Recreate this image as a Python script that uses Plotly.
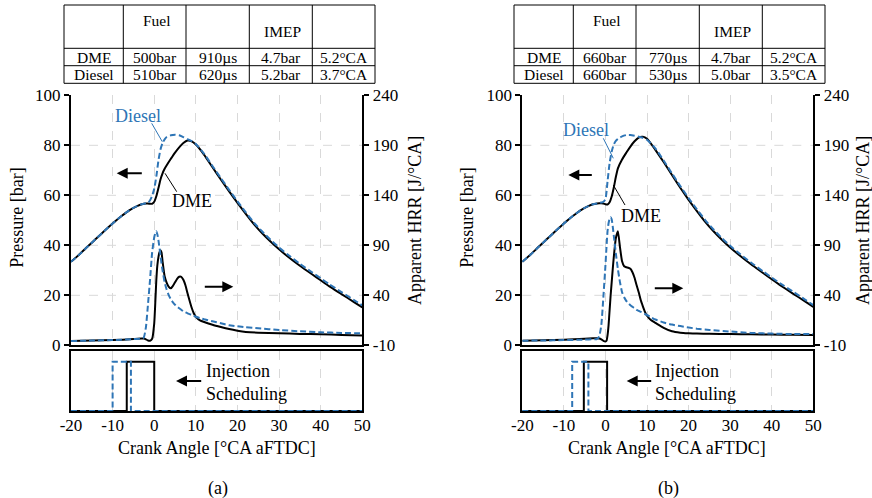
import plotly.graph_objects as go

# ---------------- data ----------------
# crank angle grids [°CA aFTDC]
ca_p = [-20, -18, -16, -14, -12, -10, -8, -6, -4, -3, -2, -1.5, -1, -0.5, 0, 0.5, 1, 1.5, 2, 2.5, 3,
        4, 5, 6, 7, 8, 9, 10, 12, 14, 16, 18, 20, 22, 24, 26, 28, 30, 32, 35, 38, 40, 42, 45, 48, 50]
ca_h = [-20, -15, -10, -5, -3, -2.5, -2, -1.5, -1, -0.5, 0, 0.25, 0.5, 0.75, 1, 1.25, 1.5, 1.75, 2,
        2.5, 3, 3.5, 4, 4.5, 5, 5.5, 6, 6.5, 7, 7.5, 8, 8.5, 9, 9.5, 10, 11, 12, 14, 16, 18, 20, 22,
        25, 30, 35, 40, 45, 50]

# (a) cylinder pressure [bar]
p_dme_a = [33.4, 36.3, 39.5, 42.6, 45.7, 48.7, 51.5, 54.0, 55.8, 56.4, 56.7, 56.7, 56.6, 56.6, 57.4,
           59.6, 62.8, 66.3, 68.8, 70.6, 72.0, 74.6, 77.1, 79.2, 80.9, 81.9, 81.6, 80.3, 76.2, 71.2,
           66.3, 61.6, 57.0, 52.6, 48.4, 44.7, 41.4, 38.4, 35.6, 31.8, 28.3, 26.0, 23.7, 20.5, 17.3, 15.2]
p_die_a = [33.4, 36.3, 39.5, 42.6, 45.7, 48.7, 51.5, 54.0, 55.8, 56.4, 56.8, 57.0, 58.0, 59.8, 62.6,
           67.5, 73.8, 78.3, 80.9, 82.4, 83.3, 84.0, 84.2, 84.0, 83.3, 82.5, 81.7, 80.5, 76.6, 71.7,
           66.9, 62.2, 57.6, 53.2, 49.0, 45.4, 42.1, 39.1, 36.4, 32.6, 29.1, 26.8, 24.5, 21.3, 18.1, 16.0]
# (a) apparent heat release rate [J/°CA]
h_dme_a = [-5.7, -5.3, -4.8, -3.8, -3.2, -3.2, -4.0, -5.2, -5.5, -3.5, 12, 32, 55, 70, 78, 83, 85,
           83, 74, 59, 52.5, 48.5, 47, 49.5, 53, 56.5, 58.5, 58.5, 55.5, 50, 42, 34.5, 27.5, 22,
           18.5, 15, 13.3, 10.6, 8.3, 6.2, 4.6, 3.4, 2.6, 2.0, 1.4, 1.0, 0.4, -0.3]
h_die_a = [-5.7, -5.3, -4.8, -3.8, -3.2, -2.0, 8, 31, 56, 83, 98, 102, 104, 101, 95.5, 88, 80, 72,
           65, 53, 45.5, 40, 36, 33, 30.5, 28.5, 27, 25.5, 24, 23, 22, 21.2, 20.5, 19.5, 18.5, 17.2,
           16, 14, 12, 10, 9, 8, 7, 5.3, 4, 3, 2.4, 2.0]

# (b) cylinder pressure [bar]
p_dme_b = [33.4, 36.3, 39.5, 42.6, 45.7, 48.7, 51.5, 54.0, 55.8, 56.4, 56.7, 56.8, 56.8, 56.7, 56.4,
           56.3, 57.2, 59.5, 63.0, 67.3, 70.8, 74.3, 77.0, 79.5, 81.6, 83.1, 83.4, 82.6, 78.2, 73.3,
           68.1, 63.0, 58.2, 53.7, 49.4, 45.6, 42.2, 39.1, 36.3, 32.4, 28.8, 26.4, 24.1, 20.8, 17.6, 15.4]
p_die_b = [33.4, 36.3, 39.5, 42.6, 45.7, 48.7, 51.5, 54.0, 55.8, 56.4, 56.7, 56.9, 57.1, 57.4, 58.5,
           65.5, 72.8, 77.5, 80.3, 81.8, 82.6, 83.6, 84.1, 84.1, 83.8, 83.4, 83.0, 82.2, 78.8, 73.9,
           68.8, 63.7, 58.9, 54.4, 50.1, 46.3, 42.9, 39.8, 37.0, 33.1, 29.5, 27.1, 24.8, 21.6, 18.3, 16.1]
# (b) apparent heat release rate [J/°CA]
h_dme_b = [-5.4, -5.0, -4.5, -3.5, -3.0, -3.0, -3.0, -3.2, -4.0, -5.5, -6.2, -5.5, 0, 10, 25, 40, 53,
           66, 78, 97, 104, 88, 74, 69, 68, 67.5, 66.5, 63, 57.5, 50, 43, 35, 29, 23.5, 19.5, 15,
           12.5, 7.5, 4.0, 2.6, 2.0, 1.7, 1.5, 1.2, 1.0, 0.8, 0.5, 0.3]
h_die_b = [-5.4, -5.2, -4.8, -4.3, -4.0, -4.0, -3.5, -1.0, 10, 38, 70, 88, 104, 112, 116.5, 118, 116,
           109, 100, 82, 66, 53, 43, 38, 34.5, 32, 30, 28.5, 27, 25.5, 24.5, 23.5, 22.5, 21.3, 20.3,
           18, 15.8, 12.8, 10.7, 9.2, 7.8, 6.6, 5.3, 3.8, 2.4, 1.7, 1.3, 1.2]

# injection timing [°CA aFTDC]: (start, end)
inj_dme_a = (-6.6, 0.0)
inj_die_a = (-10.0, -5.6)
inj_dme_b = (-5.2, 0.4)
inj_die_b = (-8.0, -4.1)

# operating-condition tables
table_head = ["", "Fuel", "", "IMEP", ""]
table_a = [["DME", "500bar", "910µs", "4.7bar", "5.2°CA"],
           ["Diesel", "510bar", "620µs", "5.2bar", "3.7°CA"]]
table_b = [["DME", "660bar", "770µs", "4.7bar", "5.2°CA"],
           ["Diesel", "660bar", "530µs", "5.0bar", "3.5°CA"]]

x_ticks = [-20, -10, 0, 10, 20, 30, 40, 50]
x_ticktext = ["-20", "-10", "0", "10", "20", "30", "40", "50"]
p_ticks = [0, 20, 40, 60, 80, 100]
h_ticks = [-10, 40, 90, 140, 190, 240]
h_ticktext = ["-10", "40", "90", "140", "190", "240"]

# ---------------- styling ----------------
W, H = 872, 498
FONT = "Liberation Serif, Tinos, Times New Roman, DejaVu Serif, serif"
BLUE = "#2e75b6"
GRID = "#d9d9d9"
LABEL_SIZE = 18
TABLE_SIZE = 15.5


def px(x):
    return x / W


def py(y):
    return 1 - y / H


def pulse(start_end):
    s, e = start_end
    return [-20, s, s, e, e, 50], [0, 0, 1, 1, 0, 0]


fig = go.Figure()

panels = [
    dict(xm="x", ym="y", yh="y2", xi="x2", yi="y3", p=(p_dme_a, p_die_a), h=(h_dme_a, h_die_a),
         inj=(inj_dme_a, inj_die_a)),
    dict(xm="x3", ym="y4", yh="y5", xi="x4", yi="y6", p=(p_dme_b, p_die_b), h=(h_dme_b, h_die_b),
         inj=(inj_dme_b, inj_die_b)),
]

for pn in panels:
    for vals, col, dash in ((pn["p"][0], "black", "solid"), (pn["p"][1], BLUE, "6px,3px")):
        fig.add_trace(go.Scatter(x=ca_p, y=vals, xaxis=pn["xm"], yaxis=pn["ym"], mode="lines",
                                 line=dict(color=col, width=2, dash=dash, shape="spline", smoothing=0.6),
                                 showlegend=False, hoverinfo="skip"))
    for vals, col, dash in ((pn["h"][0], "black", "solid"), (pn["h"][1], BLUE, "6px,3px")):
        fig.add_trace(go.Scatter(x=ca_h, y=vals, xaxis=pn["xm"], yaxis=pn["yh"], mode="lines",
                                 line=dict(color=col, width=2, dash=dash, shape="spline", smoothing=0.5),
                                 showlegend=False, hoverinfo="skip"))
    for se, col, dash in ((pn["inj"][0], "black", "solid"), (pn["inj"][1], BLUE, "6px,3px")):
        xs, ys = pulse(se)
        fig.add_trace(go.Scatter(x=xs, y=ys, xaxis=pn["xi"], yaxis=pn["yi"], mode="lines",
                                 line=dict(color=col, width=2, dash=dash),
                                 showlegend=False, hoverinfo="skip"))

tickfont = dict(family=FONT, size=17, color="black")
axis_line = dict(showline=True, linecolor="black", linewidth=2, zeroline=False, automargin=False)
x_common = dict(range=[-20, 50], tickvals=x_ticks, ticktext=x_ticktext, showgrid=True, gridcolor=GRID,
                griddash="dash", gridwidth=1, ticks="", tickfont=tickfont, **axis_line)

layout_axes = {}
for i, (x0, x1) in enumerate([(71, 362.3), (522.3, 813.3)]):
    xm = "xaxis" if i == 0 else "xaxis3"
    xi = "xaxis2" if i == 0 else "xaxis4"
    ym = "yaxis" if i == 0 else "yaxis4"
    yh = "yaxis2" if i == 0 else "yaxis5"
    yi = "yaxis3" if i == 0 else "yaxis6"
    ym_id = "y" if i == 0 else "y4"
    xm_id = "x" if i == 0 else "x3"
    xi_id = "x2" if i == 0 else "x4"
    yi_id = "y3" if i == 0 else "y6"
    layout_axes[xm] = dict(domain=[px(x0), px(x1)], anchor=ym_id, showticklabels=False, **x_common)
    layout_axes[xi] = dict(domain=[px(x0), px(x1)], anchor=yi_id, showticklabels=True, mirror=True,
                           layer="below traces", ticklabelstandoff=-2, **x_common)
    layout_axes[ym] = dict(domain=[py(345.3), py(95.3)], anchor=xm_id, range=[0, 100], tickvals=p_ticks,
                           ticks="outside", ticklen=5, tickwidth=1.5, tickcolor="black",
                           showgrid=False, tickfont=tickfont, **axis_line)
    layout_axes[yh] = dict(overlaying=ym_id, side="right", anchor=xm_id, range=[-10, 240],
                           tickvals=h_ticks, ticktext=h_ticktext, ticks="outside", ticklen=5,
                           tickwidth=1.5, tickcolor="black", showgrid=False, tickfont=tickfont,
                           **axis_line)
    layout_axes[yi] = dict(domain=[py(411), py(351)], anchor=xi_id, range=[0, 1.22],
                           showticklabels=False, ticks="", showgrid=False, mirror=True, **axis_line)

shapes = []
annotations = []

# horizontal pressure grid
for yref in ("y", "y4"):
    xref = "x domain" if yref == "y" else "x3 domain"
    for v in p_ticks[1:-1]:
        shapes.append(dict(type="line", xref=xref, yref=yref, x0=0, x1=1, y0=v, y1=v,
                           line=dict(color=GRID, width=1, dash="dash"), layer="below"))


def text(x, y, s, size=LABEL_SIZE, color="black", angle=0, xanchor="center", align="center"):
    annotations.append(dict(x=px(x), y=py(y), xref="paper", yref="paper", text=s, showarrow=False,
                            textangle=angle, xanchor=xanchor, yanchor="middle", align=align,
                            font=dict(family=FONT, size=size, color=color)))


def arrow(xt, yt, dx):
    annotations.append(dict(x=px(xt), y=py(yt), xref="paper", yref="paper", text="", showarrow=True,
                            ax=dx, ay=0, arrowhead=2, arrowsize=1.1, arrowwidth=2, arrowcolor="black"))


def leader(x0, y0, x1, y1, color):
    shapes.append(dict(type="line", xref="paper", yref="paper", x0=px(x0), y0=py(y0), x1=px(x1),
                       y1=py(y1), line=dict(color=color, width=1)))


for off, label, tbl, ptitle_x, htitle_x in ((0, "(a)", table_a, 16.7, 415),
                                           (450, "(b)", table_b, 466.7, 863)):
    # axis titles
    text(ptitle_x, 218, "Pressure [bar]", angle=-90)
    text(htitle_x, 221, "Apparent HRR [J/°CA]", angle=-90)
    text(216.7 + off, 448.3, "Crank Angle [°CA aFTDC]")
    text(218.3 + off, 488.3, label)

    # table grid
    cols = [64 + off, 123.3 + off, 186 + off, 249.3 + off, 312.3 + off, 375 + off]
    rows = [5, 48.3, 65.7, 83.3]
    for r in rows:
        leader(cols[0], r, cols[-1], r, "black")
    for c in cols:
        leader(c, rows[0], c, rows[-1], "black")
    centers = [(cols[k] + cols[k + 1]) / 2 for k in range(5)]
    text(centers[1] + 2, 20, table_head[1], size=TABLE_SIZE)
    text(centers[3] + 2, 31.7, table_head[3], size=TABLE_SIZE)
    for ri, row in enumerate(tbl):
        yc = (rows[ri + 1] + rows[ri + 2]) / 2 + 0.5
        for ci, cell in enumerate(row):
            text(centers[ci], yc, cell, size=TABLE_SIZE)

# curve labels, leader lines and arrows — panel (a)
text(137.5, 116, "Diesel", color=BLUE)
leader(151.7, 123.3, 162.3, 141.7, BLUE)
text(191.7, 201, "DME")
leader(165, 173.3, 176.7, 191.7, "black")
arrow(116.7, 173.3, 26.6)
arrow(233.3, 286.7, -30)
text(203.5, 382, "Injection<br>Scheduling", xanchor="left", align="left")
arrow(176, 381, 26.7)

# panel (b)
text(585.5, 130, "Diesel", color=BLUE)
leader(603.3, 138.3, 613.3, 158.3, BLUE)
text(641, 216, "DME")
leader(613.3, 185, 625, 205, "black")
arrow(568.3, 175, 25)
arrow(683.3, 288.3, -30)
text(653, 382, "Injection<br>Scheduling", xanchor="left", align="left")
arrow(626.7, 381, 26)

fig.update_layout(width=W, height=H, margin=dict(l=0, r=0, t=0, b=0, pad=0, autoexpand=False),
                  paper_bgcolor="white", plot_bgcolor="white", showlegend=False, shapes=shapes,
                  annotations=annotations, font=dict(family=FONT, color="black"), **layout_axes)

fig.write_html("out.html")
